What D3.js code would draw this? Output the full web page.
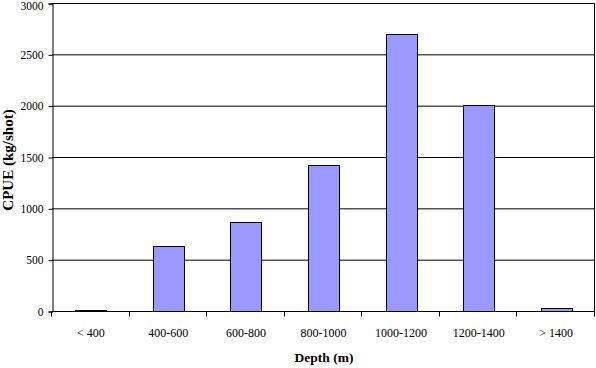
<!DOCTYPE html>
<html><head><meta charset="utf-8">
<script src="https://cdn.jsdelivr.net/npm/d3@7"></script>
<style>body{margin:0;background:#fff}svg{display:block}</style>
</head><body>
<script>
const categories = ["< 400","400-600","600-800","800-1000","1000-1200","1200-1400","> 1400"];
const values = [10, 630, 870, 1420, 2700, 2010, 25];
const yTicks = [0,500,1000,1500,2000,2500,3000];
const yTitle = "CPUE (kg/shot)";
const xTitle = "Depth (m)";

const W=596,H=368;
const m={left:52,right:1,top:3,bottom:57};
const svg=d3.select("body").append("svg").attr("width",W).attr("height",H);
const x=d3.scaleBand().domain(categories).range([m.left,W-m.right]).paddingInner(0.6).paddingOuter(0.3);
const y=d3.scaleLinear().domain([0,3000]).range([H-m.bottom,m.top]);
const font="'Liberation Serif','Times New Roman',serif";

// gridlines
svg.append("g").selectAll("line").data(yTicks.filter(d=>d>0)).join("line")
  .attr("x1",m.left).attr("x2",W-m.right).attr("y1",d=>y(d)+0.5).attr("y2",d=>y(d)+0.5)
  .attr("stroke","#000").attr("stroke-width",1);
// right border
svg.append("line").attr("x1",W-m.right-0.5).attr("x2",W-m.right-0.5).attr("y1",m.top).attr("y2",y(0))
  .attr("stroke","#000");

// bars
svg.append("g").selectAll("rect").data(values).join("rect")
  .attr("x",(d,i)=>Math.round(x(categories[i]))+0.5)
  .attr("y",d=>Math.round(y(d))+0.5)
  .attr("width",Math.round(x.bandwidth()))
  .attr("height",d=>Math.max(0,Math.round(y(0))-Math.round(y(d))))
  .attr("fill","#9999FF").attr("stroke","#000").attr("stroke-width",1);

// y axis
const ya=svg.append("g").attr("transform",`translate(${m.left+0.5},0.5)`)
  .call(d3.axisLeft(y).tickValues(yTicks).tickSize(4).tickPadding(5).tickFormat(d3.format("d")));
ya.selectAll("text").attr("font-family",font).attr("font-size",11.5).attr("fill","#000")
  .attr("dy",d=>d===3000?"0.5em":"0.32em");
ya.selectAll("line,path").attr("stroke","#000");

// x axis with ticks at boundaries
const xa=svg.append("g").attr("transform",`translate(0,${y(0)+0.5})`);
xa.append("line").attr("x1",m.left).attr("x2",W-m.right).attr("stroke","#000");
const bounds=d3.range(categories.length+1).map(i=>m.left+i*(W-m.right-m.left)/categories.length);
xa.selectAll("line.t").data(bounds).join("line").attr("class","t")
  .attr("x1",d=>Math.round(d)-0.5).attr("x2",d=>Math.round(d)-0.5).attr("y1",0).attr("y2",5).attr("stroke","#000");
xa.selectAll("text").data(categories).join("text")
  .attr("x",d=>x(d)+x.bandwidth()/2).attr("y",25)
  .attr("text-anchor","middle").attr("font-family",font).attr("font-size",12).text(d=>d);

// titles
svg.append("text").attr("x",324).attr("y",362).attr("text-anchor","middle")
  .attr("font-family",font).attr("font-size",13.5).attr("font-weight","bold").text(xTitle);
svg.append("text").attr("transform","translate(13,160) rotate(-90)").attr("text-anchor","middle")
  .attr("font-family",font).attr("font-size",15).attr("font-weight","bold").text(yTitle);
</script>
</body></html>
